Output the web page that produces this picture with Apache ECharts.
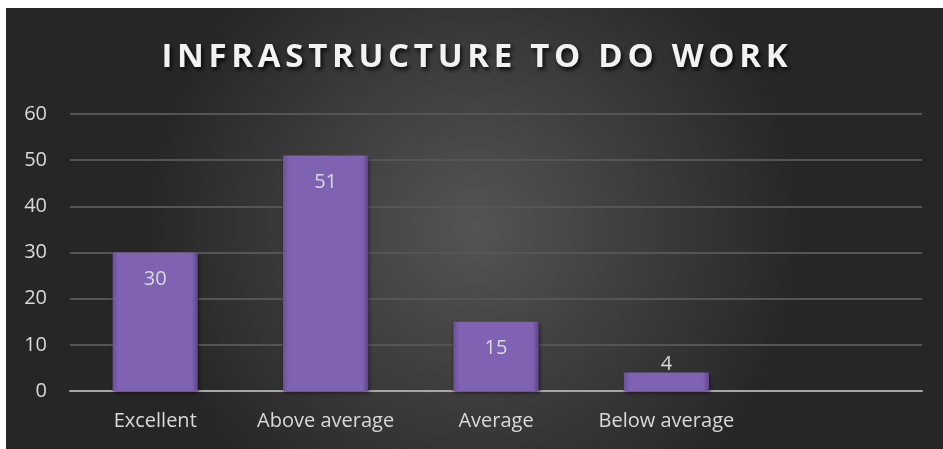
<!DOCTYPE html>
<html>
<head>
<meta charset="utf-8">
<script src="https://cdn.jsdelivr.net/npm/echarts@6/dist/echarts.min.js"></script>
<style>
html,body{margin:0;padding:0;background:#ffffff;}
#chart{position:absolute;left:6px;top:8px;width:937px;height:441px;}
</style>
</head>
<body>
<div id="chart"></div>
<script>
const titleText = 'INFRASTRUCTURE TO DO WORK';
const categories = ['Excellent', 'Above average', 'Average', 'Below average', ''];
const values = [30, 51, 15, 4, null];
const yTicks = [0, 10, 20, 30, 40, 50, 60];

const chart = echarts.init(document.getElementById('chart'), null, {renderer: 'canvas'});
const font = '"Open Sans", "Liberation Sans", sans-serif';

const barColor = {
  type: 'linear', x: 0, y: 0, x2: 1, y2: 0,
  colorStops: [
    {offset: 0, color: '#6c4f9c'},
    {offset: 0.07, color: '#7f62b2'},
    {offset: 0.93, color: '#7f62b2'},
    {offset: 1, color: '#5f4589'}
  ]
};

const titleStyle = {
  color: '#f2f2f2', fontFamily: font, fontWeight: 'bold', fontSize: 33,
  textShadowColor: 'rgba(0,0,0,0.8)', textShadowBlur: 4, textShadowOffsetX: 2, textShadowOffsetY: 3,
  padding: [0, 2.35]
};
const titleRich = titleText.split('').map(c => '{s|' + c + '}').join('');

chart.setOption({
  backgroundColor: {
    type: 'radial', x: 0.5, y: 0.5, r: 0.75,
    colorStops: [
      {offset: 0, color: '#545454'},
      {offset: 1, color: '#262626'}
    ]
  },
  title: {
    text: titleRich,
    left: 'center',
    top: 28,
    textStyle: {
      color: '#f2f2f2', fontFamily: font, fontWeight: 'bold', fontSize: 33,
      rich: {s: titleStyle}
    }
  },
  grid: {left: 64, right: 21, top: 106, bottom: 58},
  xAxis: {
    type: 'category',
    data: categories,
    axisLine: {lineStyle: {color: '#a6a6a6', width: 2}},
    axisTick: {show: false},
    axisLabel: {color: '#d9d9d9', fontFamily: font, fontSize: 20, margin: 20, interval: 0}
  },
  yAxis: {
    type: 'value',
    min: 0, max: 60, interval: 10,
    axisLine: {show: false},
    axisTick: {show: false},
    axisLabel: {color: '#d9d9d9', fontFamily: font, fontSize: 20, margin: 23,
      formatter: v => yTicks.includes(v) ? String(v) : ''},
    splitLine: {lineStyle: {color: '#555555', width: 2}}
  },
  series: [{
    type: 'bar',
    barWidth: '50%',
    data: values.map(v => v == null ? null : {
      value: v,
      label: v < 8 ? {position: 'top', distance: -2} : {}
    }),
    itemStyle: {
      color: barColor,
      shadowColor: 'rgba(0,0,0,0.5)', shadowBlur: 4, shadowOffsetX: 1, shadowOffsetY: 2
    },
    label: {
      show: true, position: 'insideTop', distance: 17,
      color: '#d9d9d9', fontFamily: font, fontSize: 20
    }
  }]
});
</script>
</body>
</html>
